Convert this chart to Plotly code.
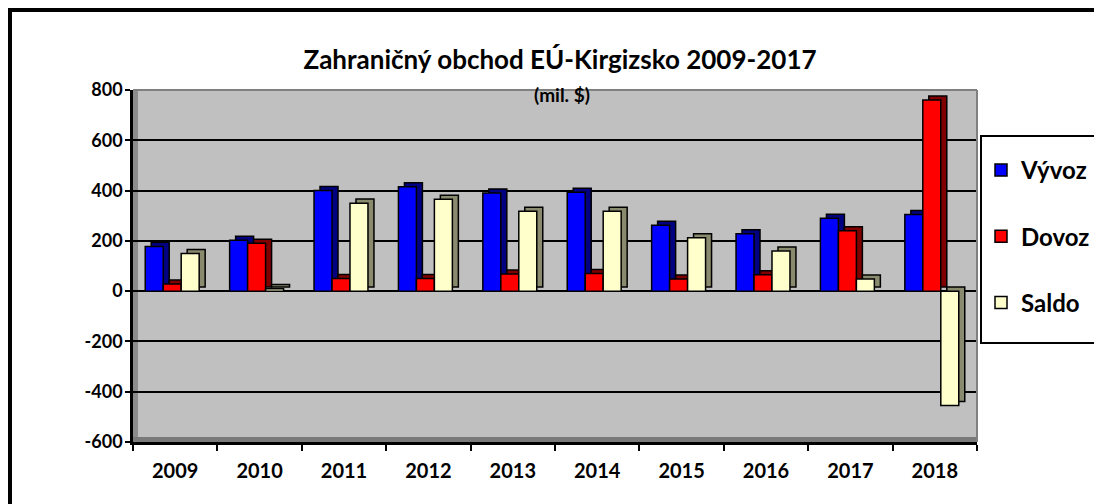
import plotly.graph_objects as go

years = ["2009", "2010", "2011", "2012", "2013", "2014", "2015", "2016", "2017", "2018"]
vyvoz = [178, 202, 400, 415, 390, 393, 262, 228, 290, 305]
dovoz = [28, 190, 50, 50, 68, 70, 48, 65, 240, 760]
saldo = [150, 10, 350, 365, 318, 318, 212, 160, 48, -455]

series_names = ["Vývoz", "Dovoz", "Saldo"]
series_values = [vyvoz, dovoz, saldo]
front_colors = ["#0000FF", "#FF0000", "#FFFFCC"]
side_colors = ["#000080", "#800000", "#8A8A6E"]

y_tickvals = [-600, -400, -200, 0, 200, 400, 600, 800]
y_ticktext = ["-600", "-400", "-200", "0", "200", "400", "600", "800"]

title_text = "Zahraničný obchod EÚ-Kirgizsko 2009-2017"
subtitle_text = "(mil. $)"

FONT = "Lato"
W, H = 1102, 504
OFF = 8  # page body margin
# plot area in page pixels
PL, PR, PT, PB = 133, 977, 90, 442
ML = PL - OFF
MR = W - (PR - OFF)
MT = PT - OFF
MB = H - (PB - OFF)
PW = PR - PL
PH = PB - PT

bar_w = 0.213
depth_x = 0.071
depth_y = 16  # value units for the 3D depth look
start = -(3 * bar_w + depth_x) / 2

fig = go.Figure()

# 3D depth (side/top faces)
for i, (vals, sc) in enumerate(zip(series_values, side_colors)):
    fig.add_trace(go.Bar(
        x=years, y=vals, base=[depth_y] * len(vals),
        width=bar_w, offset=start + i * bar_w + depth_x,
        marker=dict(color=sc, line=dict(color="black", width=1.5)),
        showlegend=False, hoverinfo="skip",
    ))

# front faces
for i, (name, vals, fc) in enumerate(zip(series_names, series_values, front_colors)):
    fig.add_trace(go.Bar(
        x=years, y=vals, name=name,
        width=bar_w, offset=start + i * bar_w,
        marker=dict(color=fc, line=dict(color="black", width=1.5)),
        legendgroup=name,
    ))

def px_x(p):  # page x -> paper
    return (p - PL) / PW

def px_y(p):  # page y -> paper
    return (PB - p) / PH

shapes = [
    # left wall
    dict(type="rect", xref="paper", yref="paper", x0=0, x1=px_x(PL + 5), y0=0, y1=1,
         fillcolor="#8C8C8C", line=dict(width=0), layer="below"),
    # floor
    dict(type="rect", xref="paper", yref="paper", x0=0, x1=1, y0=0, y1=px_y(PB - 5),
         fillcolor="#7A7A7A", line=dict(width=0), layer="below"),
    # right/top edge of back wall
    dict(type="line", xref="paper", yref="paper", x0=1, x1=1, y0=0, y1=1,
         line=dict(color="#808080", width=2)),
    dict(type="line", xref="paper", yref="paper", x0=0, x1=1, y0=1, y1=1,
         line=dict(color="#808080", width=2)),
    # outer chart border
    dict(type="rect", xref="paper", yref="paper",
         x0=px_x(10), x1=px_x(W + 40), y0=px_y(H + 40), y1=px_y(10),
         line=dict(color="black", width=4), fillcolor="rgba(0,0,0,0)"),
    # legend box
    dict(type="rect", xref="paper", yref="paper",
         x0=px_x(981), x1=px_x(1100), y0=px_y(343), y1=px_y(136),
         line=dict(color="black", width=2), fillcolor="white"),
]

fig.update_layout(
    width=W, height=H,
    margin=dict(l=ML, r=MR, t=MT, b=MB),
    paper_bgcolor="white",
    plot_bgcolor="#C0C0C0",
    barmode="overlay",
    font=dict(family=FONT, color="black", size=18, weight="bold"),
    title=dict(text=title_text, x=(560 - OFF) / W, xanchor="center",
               y=1 - (60 - OFF) / H, yanchor="middle",
               font=dict(family=FONT, size=26, color="black", weight="bold")),
    annotations=[dict(text=subtitle_text, xref="paper", yref="paper", x=px_x(562), y=px_y(94),
                      showarrow=False, xanchor="center", yanchor="middle",
                      font=dict(family=FONT, size=19, color="black", weight="bold"))],
    showlegend=True,
    legend=dict(x=px_x(981), xanchor="left", y=px_y(148), yanchor="top",
                bgcolor="rgba(0,0,0,0)", borderwidth=0,
                font=dict(family=FONT, size=24, color="black", weight="bold"),
                traceorder="grouped", tracegroupgap=32, itemwidth=30),
    shapes=shapes,
)

fig.update_xaxes(type="category", range=[-0.5, 9.5], showgrid=False, automargin=False,
                 showline=True, linecolor="black", linewidth=3,
                 ticks="outside", tickson="boundaries", ticklen=6, tickwidth=2, tickcolor="black",
                 ticklabelstandoff=9,
                 tickfont=dict(family=FONT, size=20, color="black", weight="bold"))
fig.update_yaxes(range=[-600, 800], tickvals=y_tickvals, ticktext=y_ticktext, automargin=False,
                 showgrid=True, gridcolor="black", gridwidth=2,
                 zeroline=True, zerolinecolor="black", zerolinewidth=2,
                 showline=True, linecolor="black", linewidth=2.5,
                 ticks="outside", ticklen=5, tickwidth=2, tickcolor="black",
                 ticklabelstandoff=-1,
                 tickfont=dict(family=FONT, size=18, color="black", weight="bold"))

fig.write_html("out.html")
